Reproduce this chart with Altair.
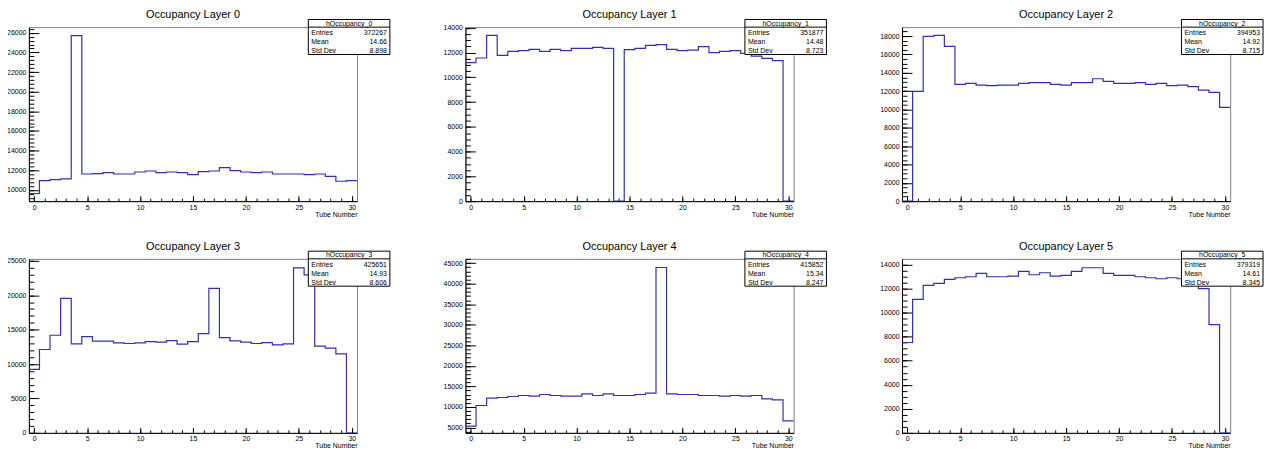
import altair as alt
import pandas as pd

FONT = "Liberation Sans"
BLUE = "#3030b0"

tubes = list(range(31))

layer0 = [9630, 10945, 11046, 11114, 25700, 11620, 11654, 11755, 11620, 11620,
          11823, 11924, 11755, 11823, 11755, 11553, 11857, 11924, 12262, 11958,
          11823, 11755, 11823, 11620, 11620, 11620, 11553, 11620, 11384, 10878, 10945]
layer1 = [11183, 11559, 13387, 11774, 12097, 12151, 12258, 12097, 12258, 12151,
          12339, 12339, 12419, 12339, 0, 12231, 12339, 12581, 12634, 12258,
          12151, 12204, 12473, 11989, 12097, 12151, 11935, 11720, 11532, 11344, 0]
layer2 = [0, 11974, 17961, 18070, 16872, 12736, 12845, 12663, 12591, 12663,
          12663, 12845, 12917, 12917, 12736, 12663, 12917, 12917, 13353, 13062,
          12845, 12845, 12917, 12736, 12845, 12591, 12663, 12482, 12119, 11865, 10232]
layer3 = [9218, 12114, 14189, 19546, 12934, 13996, 13320, 13320, 13079, 12983,
          13079, 13272, 13176, 13417, 12886, 13272, 14431, 20994, 13851, 13369,
          13176, 12983, 13127, 12790, 12934, 23986, 22973, 12597, 12307, 11486, 0]
layer4 = [5325, 10355, 12140, 12302, 12546, 12789, 12627, 13032, 12789, 12627,
          12627, 13195, 12789, 13195, 12789, 12789, 13032, 13357, 43945, 13195,
          13032, 13032, 12789, 12789, 12627, 12789, 12627, 12789, 11978, 11734, 6623]
layer5 = [7511, 11102, 12262, 12428, 12759, 12897, 12980, 13256, 12980, 12980,
          13035, 13422, 13146, 13311, 13035, 13090, 13422, 13726, 13726, 13256,
          13090, 13090, 12980, 12897, 12814, 12897, 12814, 12500, 11986, 9003, 0]

layers = [layer0, layer1, layer2, layer3, layer4, layer5]
titles = ["Occupancy Layer %d" % i for i in range(6)]
hist_names = ["hOccupancy_%d" % i for i in range(6)]
entries = ["372267", "351877", "394953", "425651", "415852", "379319"]
means = ["14.66", "14.48", "14.92", "14.93", "15.34", "14.61"]
stds = ["8.898", "8.723", "8.715", "8.606", "8.247", "8.345"]

y_domains = [[8852, 26574], [0, 14054], [0, 18980], [0, 25290], [3700, 46050], [0, 14469]]
y_major_step = [2000, 2000, 2000, 5000, 5000, 2000]
y_minor_step = [400, 500, 500, 1000, 1000, 500]

x_major = [0, 5, 10, 15, 20, 25, 30]
x_minor = tubes

W, H = 330, 175


def ticks_in(lo, hi, step):
    start = int(lo // step) * step
    out = []
    v = start
    while v <= hi:
        if v >= lo:
            out.append(v)
        v += step
    return out


def panel(i):
    vals = layers[i]
    df = pd.DataFrame({
        "edge": [t - 0.5 for t in tubes] + [tubes[-1] + 0.5],
        "count": vals + [vals[-1]],
    })
    one = pd.DataFrame({"k": [0]})
    lo, hi = y_domains[i]
    ymaj = ticks_in(lo, hi, y_major_step[i])
    ymin = ticks_in(lo, hi, y_minor_step[i])
    xs = alt.Scale(domain=[-0.5, 30.5], nice=False, zero=False)
    ys = alt.Scale(domain=y_domains[i], nice=False, zero=False)

    line = alt.Chart(df).mark_line(
        interpolate="step-after", color=BLUE, strokeWidth=1.2, clip=True
    ).encode(
        x=alt.X("edge:Q", scale=xs, axis=alt.Axis(
            orient="bottom", values=x_major, ticks=False, tickSize=0, format="d",
            labelPadding=2, labelFontSize=7, labelFont=FONT, labelColor="black",
            labelOverlap=False, labelFlush=False, minExtent=0,
            domainColor="black", domainWidth=1, grid=False,
            title="Tube Number", titleX=W, titleY=15, titleAlign="right",
            titleBaseline="alphabetic", titleFontSize=7, titleFontWeight="normal",
            titleFont=FONT, titleColor="black")),
        y=alt.Y("count:Q", scale=ys, axis=alt.Axis(
            orient="left", values=ymaj, ticks=False, tickSize=0, format="d",
            labelPadding=3, labelFontSize=7, labelFont=FONT, labelColor="black",
            labelOverlap=False, labelFlush=False, minExtent=0,
            domainColor="black", domainWidth=1, grid=False, title=None)),
    )

    major = alt.Chart(df).mark_point(opacity=0).encode(
        x=alt.X("edge:Q", scale=xs, axis=alt.Axis(
            orient="top", offset=-H, values=x_major, labels=False, domain=False,
            minExtent=0, grid=False, tickSize=5.5, tickColor="black", tickWidth=1,
            title=None)),
        y=alt.Y("count:Q", scale=ys, axis=alt.Axis(
            orient="right", offset=-W, values=ymaj, labels=False, domain=False,
            minExtent=0, grid=False, tickSize=10, tickColor="black", tickWidth=1,
            title=None)),
    )

    minor = alt.Chart(df).mark_point(opacity=0).encode(
        x=alt.X("edge:Q", scale=xs, axis=alt.Axis(
            orient="top", offset=-H, values=x_minor, labels=False, domain=False,
            minExtent=0, grid=False, tickSize=3, tickColor="black", tickWidth=1,
            title=None)),
        y=alt.Y("count:Q", scale=ys, axis=alt.Axis(
            orient="right", offset=-W, values=ymin, labels=False, domain=False,
            minExtent=0, grid=False, tickSize=5, tickColor="black", tickWidth=1,
            title=None)),
    )

    title = alt.Chart(one).mark_text(
        text=titles[i], font=FONT, fontSize=11, baseline="alphabetic",
        align="center", color="black"
    ).encode(x=alt.value(W / 2), y=alt.value(-9))

    bx0, bx1, by0, by1 = 281, 363, -7.7, 27.5
    box = alt.Chart(one).mark_rect(fill="white", stroke="black", strokeWidth=1).encode(
        x=alt.value(bx0), x2=alt.value(bx1), y=alt.value(by0), y2=alt.value(by1))
    divider = alt.Chart(one).mark_rule(color="black", strokeWidth=1).encode(
        x=alt.value(bx0), x2=alt.value(bx1), y=alt.value(0))

    def txt(s, x, y, align):
        return alt.Chart(one).mark_text(
            text=s, font=FONT, fontSize=7, baseline="alphabetic", align=align,
            color="black"
        ).encode(x=alt.value(x), y=alt.value(y))

    texts = [
        txt(hist_names[i], (bx0 + bx1) / 2, -1.5, "center"),
        txt("Entries", bx0 + 3, 8, "left"),
        txt(entries[i], bx1 - 3, 8, "right"),
        txt("Mean", bx0 + 3, 17, "left"),
        txt(means[i], bx1 - 3, 17, "right"),
        txt("Std Dev", bx0 + 3, 26, "left"),
        txt(stds[i], bx1 - 3, 26, "right"),
    ]

    return alt.layer(line, major, minor, title, box, divider, *texts).resolve_axis(
        x="independent", y="independent"
    ).properties(width=W, height=H)


chart = alt.concat(
    *[panel(i) for i in range(6)], columns=3,
    spacing={"row": 58, "column": 109}, bounds="flush"
).configure_view(
    stroke="#808080", strokeWidth=1
).properties(padding={"left": -2, "top": -1, "right": 0, "bottom": 0},
             background="white")

chart.save("out.html", embed_options={"renderer": "svg", "actions": False})
